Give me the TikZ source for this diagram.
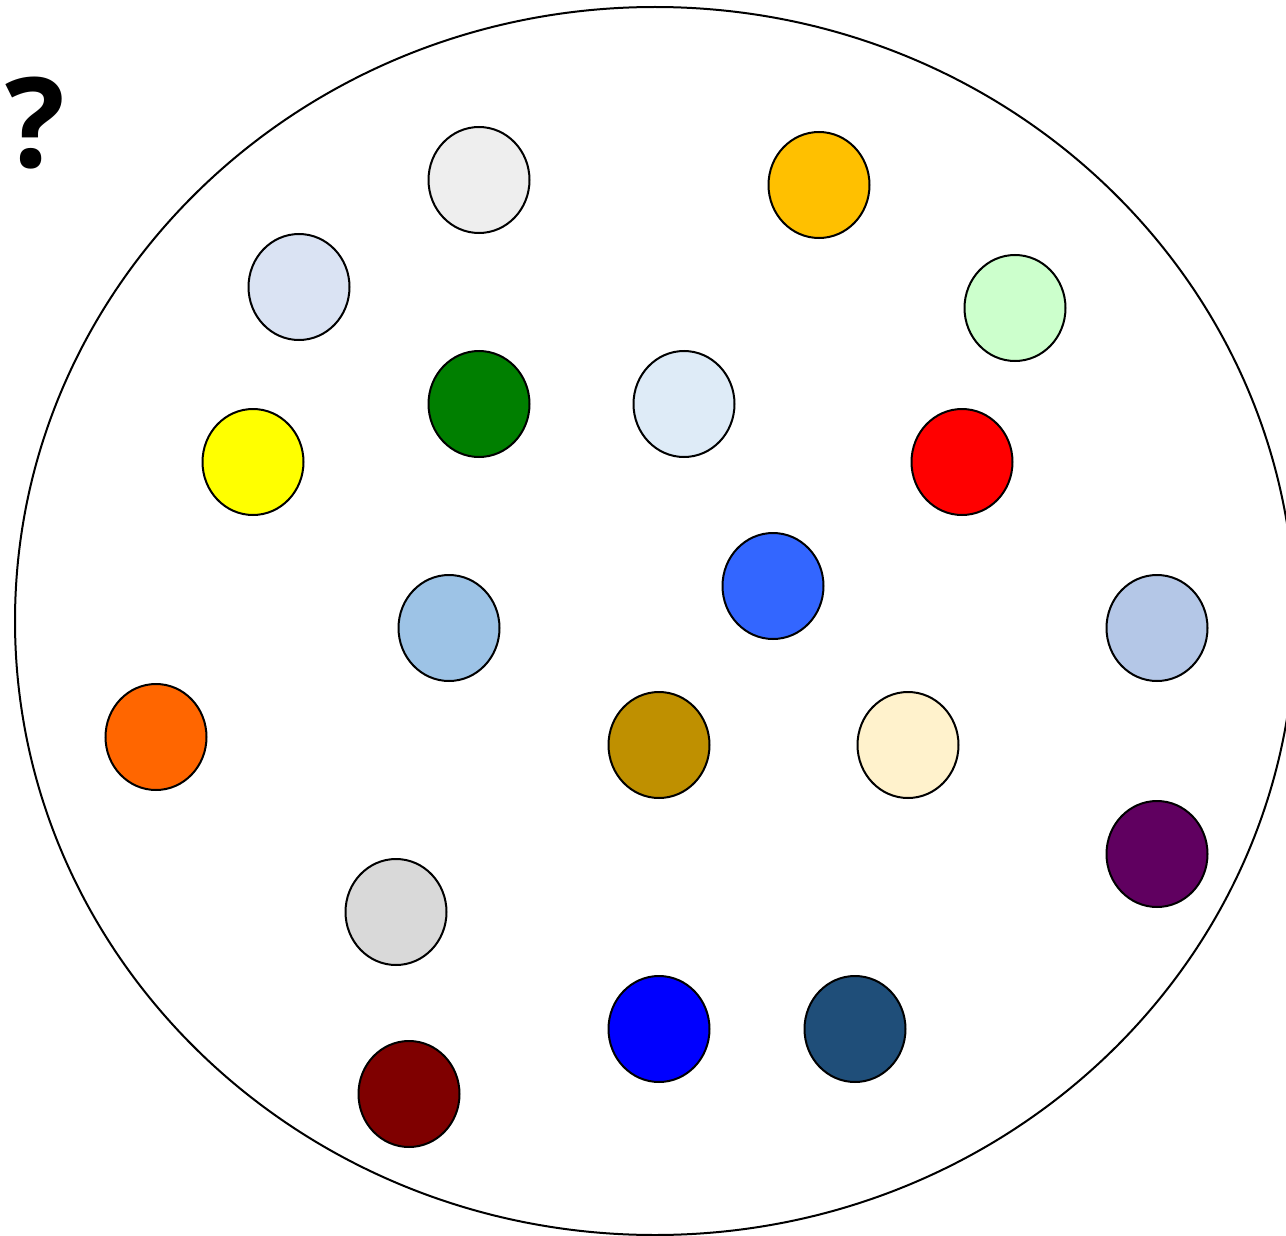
\documentclass[tikz,border=0pt]{standalone}
\usepackage{fontspec}
\setmainfont{Open Sans}
\definecolor{c1}{HTML}{EEEEEE}
\definecolor{c2}{HTML}{FFC000}
\definecolor{c3}{HTML}{DAE3F3}
\definecolor{c4}{HTML}{CCFFCC}
\definecolor{c5}{HTML}{007F00}
\definecolor{c6}{HTML}{DEEBF7}
\definecolor{c7}{HTML}{FFFF00}
\definecolor{c8}{HTML}{FF0000}
\definecolor{c9}{HTML}{3366FF}
\definecolor{c10}{HTML}{9DC3E6}
\definecolor{c11}{HTML}{B4C7E7}
\definecolor{c12}{HTML}{FF6600}
\definecolor{c13}{HTML}{BF9000}
\definecolor{c14}{HTML}{FFF2CC}
\definecolor{c15}{HTML}{600060}
\definecolor{c16}{HTML}{D9D9D9}
\definecolor{c17}{HTML}{0000FF}
\definecolor{c18}{HTML}{1F4E79}
\definecolor{c19}{HTML}{7F0000}
\tikzset{dot/.style={draw=black,line width=2pt,ellipse,minimum width=101pt,minimum height=106pt,inner sep=0pt}}
\usetikzlibrary{shapes.geometric}
\begin{document}
\begin{tikzpicture}[x=1pt,y=-1pt]
\useasboundingbox (0,0) rectangle (1286,1236);
\node[draw=black,line width=2pt,ellipse,minimum width=1280pt,minimum height=1228pt,inner sep=0pt] (big) at (655,621) {};
\node[font=\bfseries\fontsize{125}{125}\selectfont,inner sep=0pt] (q) at (35,123) {?};
\node[dot,fill=c1] (n1) at (479,180) {};
\node[dot,fill=c2] (n2) at (819,185) {};
\node[dot,fill=c3] (n3) at (299,287) {};
\node[dot,fill=c4] (n4) at (1015,308) {};
\node[dot,fill=c5] (n5) at (479,404) {};
\node[dot,fill=c6] (n6) at (684,404) {};
\node[dot,fill=c7] (n7) at (253,462) {};
\node[dot,fill=c8] (n8) at (962,462) {};
\node[dot,fill=c9] (n9) at (773,586) {};
\node[dot,fill=c10] (n10) at (449,628) {};
\node[dot,fill=c11] (n11) at (1157,628) {};
\node[dot,fill=c12] (n12) at (156,737) {};
\node[dot,fill=c13] (n13) at (659,745) {};
\node[dot,fill=c14] (n14) at (908,745) {};
\node[dot,fill=c15] (n15) at (1157,854) {};
\node[dot,fill=c16] (n16) at (396,912) {};
\node[dot,fill=c17] (n17) at (659,1029) {};
\node[dot,fill=c18] (n18) at (855,1029) {};
\node[dot,fill=c19] (n19) at (409,1094) {};
\end{tikzpicture}
\end{document}
